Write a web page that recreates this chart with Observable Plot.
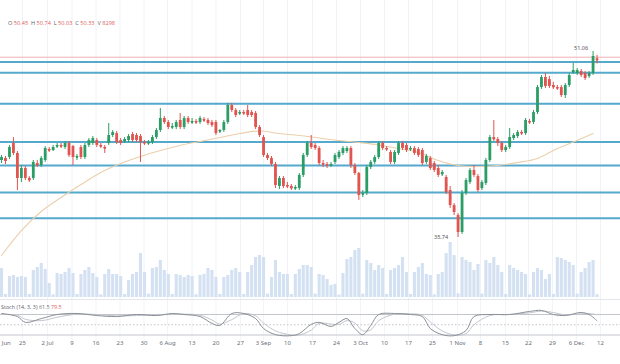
<!DOCTYPE html>
<html>
<head>
<meta charset="utf-8">
<script src="https://cdn.jsdelivr.net/npm/d3@7"></script>
<script src="https://cdn.jsdelivr.net/npm/@observablehq/plot@0.6"></script>
<style>
  html, body { margin: 0; padding: 0; background: #ffffff; }
  #chart { position: relative; width: 620px; height: 364px; overflow: hidden; font-family: "Open Sans", "DejaVu Sans", sans-serif; background:#fff; }
  .lbl { position: absolute; white-space: pre; color: #5d606b; }
  .lbl .v { color: #e0605a; }
</style>
</head>
<body>
<div id="chart"></div>
<script>
// ---- price data (daily bars, index = bar number) ----
const open = [42.08,42.25,42.33,43.48,42.66,40.60,41.42,40.60,40.60,41.83,41.67,42.08,42.99,42.90,43.23,43.32,43.15,43.48,43.23,42.33,
43.15,42.33,43.32,43.48,43.73,43.32,43.15,43.48,44.14,44.30,43.73,43.65,43.73,44.22,44.14,44.06,43.56,43.48,43.56,43.97,
44.55,45.54,45.21,44.80,44.80,45.38,44.80,45.54,45.21,45.29,45.21,45.46,45.38,45.21,45.21,44.47,44.55,45.21,46.61,46.20,
45.95,46.03,46.20,46.03,45.95,44.80,43.97,42.49,42.25,41.75,39.94,40.60,40.02,39.94,39.77,39.77,40.85,42.49,43.48,43.32,
43.07,41.83,41.75,41.67,41.92,42.33,42.66,42.82,43.07,41.67,41.01,39.28,39.36,41.50,41.92,42.33,43.48,43.07,42.74,41.92,
42.66,43.48,43.32,42.99,43.07,42.99,42.90,41.92,42.25,41.83,41.42,40.93,40.68,39.61,38.37,37.55,36.15,39.36,40.27,41.26,
40.76,39.77,40.19,42.08,43.97,43.81,43.48,42.90,43.15,43.89,44.06,44.39,44.30,45.29,45.21,46.03,48.09,48.92,48.75,48.26,
48.09,48.09,47.43,48.26,49.33,49.25,49.41,49.25,49.00,49.25,50.45];
const high = [42.49,42.41,43.32,43.97,42.82,41.67,41.59,40.76,42.08,42.08,42.41,43.23,43.15,43.32,43.48,43.48,43.65,43.65,43.32,42.58,
43.32,43.48,43.89,44.06,43.89,43.48,43.32,45.13,44.55,44.47,43.89,43.97,44.22,44.39,44.30,44.22,43.73,43.73,44.14,44.72,
46.36,45.71,45.38,45.13,45.38,45.95,45.71,45.71,45.54,45.46,45.71,45.62,45.54,45.38,45.38,44.63,45.38,46.78,46.78,46.36,
46.20,46.20,46.61,46.20,46.12,44.96,44.14,42.66,42.41,41.92,40.76,40.76,40.27,40.10,40.02,41.01,42.66,43.65,44.14,43.48,
43.23,42.08,41.92,41.92,42.66,42.90,43.23,43.23,43.23,41.83,41.10,39.61,41.67,42.08,42.49,43.65,43.65,43.23,42.90,42.90,
43.65,43.65,43.48,43.23,43.23,43.15,43.07,42.58,42.41,42.00,41.67,41.26,40.85,39.94,38.54,37.71,39.61,40.60,41.42,41.67,
40.93,40.43,42.25,44.14,45.38,43.97,43.65,43.32,44.72,44.30,44.55,44.55,45.54,45.46,46.20,48.26,49.08,49.25,49.00,48.51,
48.26,48.26,48.42,49.25,50.07,49.66,49.58,49.41,49.41,51.06,50.74];
const low = [41.83,41.75,42.16,42.49,39.61,40.27,40.43,40.27,40.43,41.50,41.50,41.92,42.74,42.82,43.07,43.07,42.99,42.33,41.67,42.08,
42.16,42.16,43.15,43.32,43.15,43.07,42.66,43.32,43.97,43.40,43.32,43.48,43.56,43.56,43.56,41.92,43.32,43.32,43.40,43.81,
44.39,45.05,44.63,44.63,44.63,44.63,44.63,45.05,45.05,45.05,45.05,45.21,44.96,44.80,44.14,44.30,44.39,45.05,46.03,45.62,
45.79,45.79,45.62,45.62,44.63,43.97,42.33,42.08,41.59,39.77,39.69,39.77,39.77,39.61,39.61,39.61,40.68,42.33,42.99,42.90,
41.67,41.50,41.42,41.50,41.75,42.16,42.49,42.66,41.42,40.85,38.79,39.03,39.20,41.34,41.75,42.16,42.90,42.82,41.75,41.75,
42.49,42.90,42.74,42.82,42.49,42.33,41.67,41.75,41.26,41.09,40.68,40.76,39.28,38.13,37.55,35.74,35.99,39.20,40.10,40.68,
39.44,39.61,40.02,41.92,43.65,43.23,42.74,42.74,42.99,43.73,43.89,44.14,44.14,45.05,45.05,45.87,47.93,48.01,48.01,47.93,
47.85,47.27,47.19,48.09,49.16,49.08,48.92,48.67,48.84,49.08,50.03];
const close = [42.33,42.00,43.15,42.66,40.60,41.42,40.60,40.43,41.92,41.67,42.25,43.07,42.90,43.15,43.32,43.23,43.48,42.49,42.33,42.41,
42.33,43.32,43.73,43.89,43.32,43.23,43.07,44.14,44.39,43.56,43.48,43.81,44.06,43.73,43.73,43.56,43.48,43.56,43.97,44.55,
45.54,45.21,44.80,44.88,45.21,44.80,45.54,45.21,45.29,45.21,45.54,45.38,45.13,44.96,44.30,44.55,45.21,46.61,46.20,45.79,
46.03,45.95,45.79,45.79,44.80,44.14,42.49,42.25,41.75,40.02,40.60,39.94,39.94,39.77,39.86,40.85,42.49,43.48,43.15,43.07,
41.83,41.75,41.67,41.75,42.49,42.74,43.07,43.07,41.67,41.01,39.20,39.36,41.50,41.92,42.33,43.48,43.07,42.99,41.92,42.74,
43.48,43.07,42.90,43.07,42.66,42.49,41.83,42.41,41.42,41.26,40.85,41.09,39.44,38.37,37.80,36.15,39.36,40.43,41.26,40.85,
39.61,40.27,42.08,43.97,43.81,43.48,42.90,43.15,43.97,44.14,44.39,44.30,45.38,45.21,46.03,48.09,48.92,48.18,48.18,48.09,
48.01,47.43,48.26,49.08,49.49,49.49,49.08,48.84,49.25,50.65,50.33];
// volume in thousands
const volume = [87,9,63,66,60,63,60,9,81,90,102,84,42,8,72,69,75,87,72,9,
69,81,90,72,60,8,69,84,69,69,63,9,51,69,75,132,75,10,87,90,
111,81,69,9,69,66,60,66,63,8,66,69,87,81,60,9,60,66,81,87,
75,9,75,96,120,126,120,10,60,111,75,69,69,9,69,84,96,96,90,10,
69,66,54,36,39,7,72,114,120,141,147,10,111,102,81,96,87,9,81,87,
96,120,75,9,75,90,102,69,66,8,69,75,132,165,126,11,120,111,105,81,
99,10,111,102,120,96,75,9,96,87,81,75,69,8,75,87,81,54,69,9,
120,117,111,105,96,10,75,87,105,111,8.298];

// moving average (read at sample bars)
const maIdx = [0,5,10,15,20,25,30,35,40,45,50,55,60,65,70,75,80,85,90,95,100,105,110,115,120,125,130,135,140,145,149];
const maVal = [34.26,36.31,37.88,39.03,40.10,41.09,41.83,42.41,42.90,43.32,43.65,43.97,44.30,44.51,44.30,44.14,43.93,43.73,43.56,43.36,
43.07,42.74,42.08,41.67,41.59,41.67,41.92,42.25,43.07,43.73,44.30];

// horizontal levels drawn on the chart
const levels = [50.19, 49.30, 46.75, 43.60, 41.67, 39.44, 37.33];
const lastLine = 50.59;

// stochastic (14,3,3)
const stIdx = [0,4,6,10,14,19,24,29,34,39,43,46,50,53,55,58,61,64,66,69,73,75,78,80,83,85,87,89,91,93,95,99,103,106,108,111,114,117,119,123,128,133,136,139,142,146,148,150];
const stK = [83,74,57,68,80,83,77,74,80,77,83,80,74,54,48,83,83,68,39,21,18,24,51,57,45,57,68,39,21,48,80,83,80,74,39,21,18,33,74,80,80,89,92,80,77,86,80,61.5];
const stD = [80,78,66,62,72,81,80,76,77,79,80,81,78,64,52,65,83,76,55,32,20,20,34,54,52,51,62,55,32,35,62,81,82,78,58,32,20,24,50,77,80,85,90,86,79,82,83,79.5];
const stBands = [80, 20];
const stMid = [50];

// date axis
const tickIdx = [1.2,5.28,11.58,17.75,23.80,29.84,35.89,41.81,47.98,54.02,60.19,65.99,72.03,78.33,84.37,90.42,96.47,102.52,108.56,114.86,120.65,126.94,132.74,138.78,144.83,150.88];
const tickLbl = ["Jun","25","2 Jul","9","16","23","30","6 Aug","13","20","27","3 Sep","10","17","24","3 Oct","10","17","25","1 Nov","8","15","22","29","6 Dec","12"];

// ---- build ----
const W = 620, PH = 300;
const xDomain = [-0.26, 155.91];
const UP = "#2b9d66", DN = "#e1544f";
const bars = open.map((o, i) => ({i, o, h: high[i], l: low[i], c: close[i], v: volume[i], col: close[i] >= o ? UP : DN}));
const ticks = tickIdx.map((k, j) => ({k, t: tickLbl[j]}));
const grid = ticks.slice(1);
const ma = maIdx.map((k, j) => ({k, v: maVal[j]}));
const st = stIdx.map((k, j) => ({k, K: stK[j], D: stD[j]}));
const last = bars.length - 1;
const hiBar = bars.reduce((a, b) => b.h > a.h ? b : a);
const loBar = bars.reduce((a, b) => b.l < a.l ? b : a);

const chart = document.getElementById("chart");
function place(el, top) { el.style.position = "absolute"; el.style.left = "0px"; el.style.top = top + "px"; chart.appendChild(el); }
const common = {width: W, margin: 0, x: {domain: xDomain, axis: null}, style: {background: "transparent", overflow: "hidden"}};

place(Plot.plot({...common, height: PH,
  y: {domain: [-9, 891], axis: null},
  marks: [
    Plot.ruleX(grid, {x: "k", stroke: "#f0f2f7"}),
    Plot.ruleX(bars, {x: "i", y1: 0, y2: "v", stroke: "#d3e1f2", strokeWidth: 3.1}),
    Plot.ruleY([-6], {stroke: "#e3e6eb"})
  ]}), 0);

place(Plot.plot({...common, height: PH,
  y: {domain: [30.55, 55.26], axis: null},
  marks: [
    Plot.ruleY([lastLine], {stroke: "#f1b0b5", strokeWidth: 1}),
    Plot.ruleY(levels, {stroke: "#55a9cc", strokeWidth: 2}),
    Plot.line(ma, {x: "k", y: "v", stroke: "#ebcfab", strokeWidth: 1.1, curve: "catmull-rom"}),
    Plot.ruleX(bars, {x: "i", y1: "l", y2: "h", stroke: "col", strokeWidth: 1}),
    Plot.ruleX(bars, {x: "i", y1: "o", y2: "c", stroke: "col", strokeWidth: 2.8}),
    Plot.dot(bars, {x: "i", y: d => (d.o + d.c) / 2, r: 1.1, symbol: "square", fill: "col"}),
    Plot.text([hiBar], {x: "i", y: "h", text: d => d.h.toFixed(2), textAnchor: "end", dx: -5, dy: -3, fontSize: 5.5, fill: "#555"}),
    Plot.text([loBar], {x: "i", y: "l", text: d => d.l.toFixed(2), textAnchor: "end", dx: -10, dy: 0, fontSize: 5.5, fill: "#555"})
  ]}), 0);

place(Plot.plot({...common, height: 40,
  y: {domain: [3.8, 121.1], axis: null},
  marks: [
    Plot.ruleX(grid, {x: "k", stroke: "#f2f4f8"}),
    Plot.ruleY(stBands, {stroke: "#c2c5cc", strokeWidth: 1.2}),
    Plot.ruleY(stMid, {stroke: "#c2c5cc", strokeDasharray: "1.5,2"}),
    Plot.line(st, {x: "k", y: "D", stroke: "#c3c6cd", strokeWidth: 1, curve: "catmull-rom"}),
    Plot.line(st, {x: "k", y: "K", stroke: "#8c8f97", strokeWidth: 1, curve: "catmull-rom"})
  ]}), 300);

place(Plot.plot({...common, height: 20,
  marks: [
    Plot.text(ticks, {x: "k", text: "t", frameAnchor: "middle", fontSize: 6, fill: "#6b6e78"})
  ]}), 333);

const hdr = document.createElement("div");
hdr.className = "lbl";
hdr.style.left = "8px"; hdr.style.top = "19px"; hdr.style.fontSize = "5.6px";
hdr.innerHTML = `O <span class="v">${open[last].toFixed(2)}</span>  H <span class="v">${high[last].toFixed(2)}</span>  L <span class="v">${low[last].toFixed(2)}</span>  C <span class="v">${close[last].toFixed(2)}</span>  V <span class="v">${Math.round(volume[last]*1000)}</span>`;
chart.appendChild(hdr);

const sl = document.createElement("div");
sl.className = "lbl";
sl.style.left = "1px"; sl.style.top = "303px"; sl.style.fontSize = "5.4px";
sl.style.background = "rgba(255,255,255,0.7)";
sl.innerHTML = `Stoch (14, 3, 3) <span style="color:#6b6e78">${stK[stK.length-1].toFixed(1)}</span> <span class="v">${stD[stD.length-1].toFixed(1)}</span>`;
chart.appendChild(sl);
</script>
</body>
</html>
